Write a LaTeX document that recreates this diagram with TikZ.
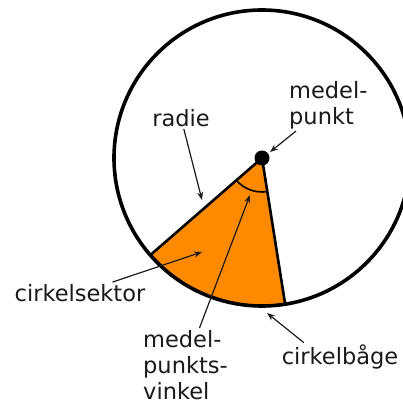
\documentclass[tikz,border=0pt]{standalone}
\usepackage{fontspec}
\setmainfont{DejaVu Sans}
\usetikzlibrary{arrows.meta,calc}
\definecolor{sect}{HTML}{FF8A00}
\definecolor{ink}{HTML}{1A1A1A}
\tikzset{
  >={Stealth[length=8pt,width=6pt]},
  lbl/.style={font=\fontsize{22.5}{26}\selectfont,text=ink,inner sep=2pt},
  llbl/.style={lbl,align=left},
  arr/.style={->,draw=ink,line width=1.2pt},
}
\begin{document}
\begin{tikzpicture}[x=1pt,y=1pt]
\useasboundingbox (0,0) rectangle (403,405);
\clip (0,0) rectangle (403,405);
\fill[white] (0,0) rectangle (403,405);
\coordinate (O) at (262,247);
% sector and circle
\filldraw[fill=sect,draw=black,line width=2.6pt,line join=round] (O) -- ++(221:148) arc[start angle=221,end angle=279,radius=148] -- cycle;
\draw[line width=1.6pt] ($(O)+(221:34)$) arc[start angle=221,end angle=279,radius=34];
\draw[line width=3.6pt] (O) circle[radius=148];
\fill (O) circle[radius=7.5];
% arrow targets
\coordinate (tRad) at (202,205);
\coordinate (tMid) at (270,253);
\coordinate (tSek) at (202,153);
\coordinate (tVin) at (250,210);
\coordinate (tBag) at (267,92);
% labels
\node[lbl] (radie) at (181,287) {radie};
\node[llbl,anchor=west] (mp) at (287,300) {medel-\\punkt};
\node[lbl] (sek) at (80,112) {cirkelsektor};
\node[llbl,anchor=west] (mpv) at (141,40) {medel-\\punkts-\\vinkel};
\node[lbl] (bag) at (340,48) {cirkelbåge};
\draw[arr] (radie) -- (tRad);
\draw[arr] (mp) -- (tMid);
\draw[arr] (sek) -- (tSek);
\draw[arr] (mpv) -- (tVin);
\draw[arr] ($(bag.north west)!0.2!(bag.north east)$) -- (tBag);
\end{tikzpicture}
\end{document}
